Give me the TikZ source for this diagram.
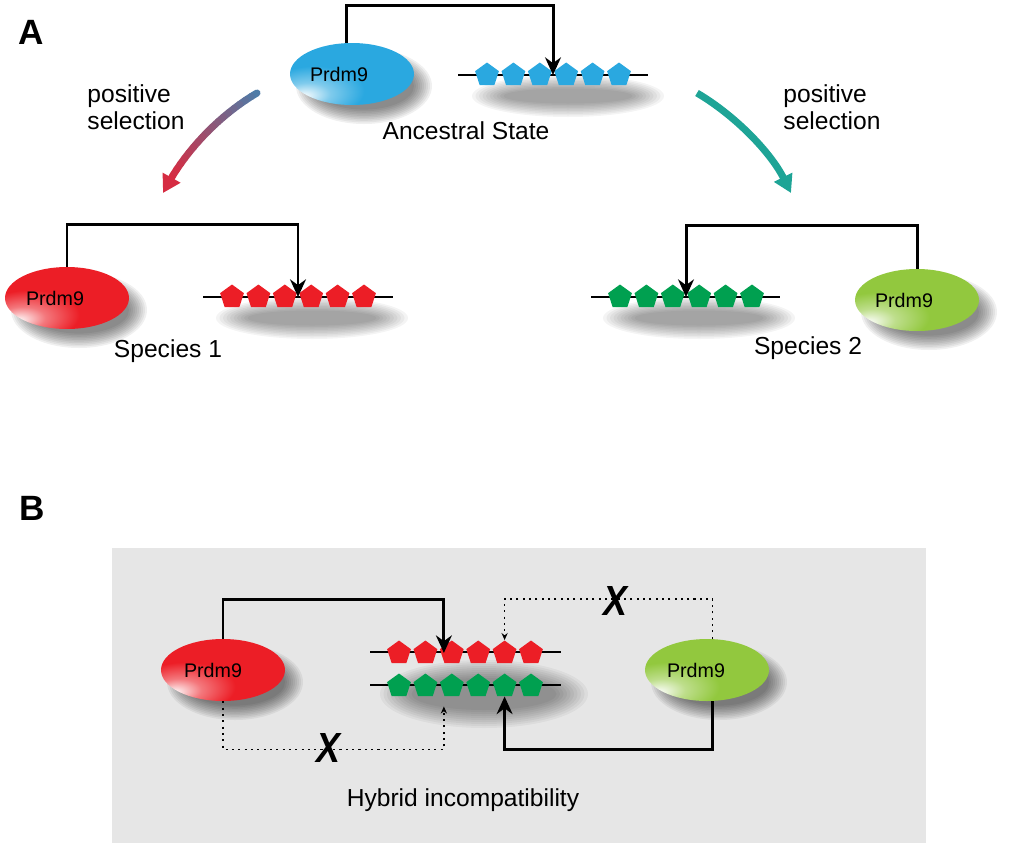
\documentclass[tikz,border=0pt]{standalone}
\usepackage{fontspec}
\setmainfont{Liberation Sans}
\usepackage{xcolor}
\usetikzlibrary{arrows.meta}
\usetikzlibrary{shapes.geometric}
\usetikzlibrary{calc}

\definecolor{ancblue}{RGB}{42,168,224}
\definecolor{sp1red}{RGB}{236,30,38}
\definecolor{sitegreen}{RGB}{0,160,80}
\definecolor{sp2lime}{RGB}{146,200,62}
\definecolor{selblue}{RGB}{78,124,168}
\definecolor{selred}{RGB}{214,44,66}
\definecolor{selteal}{RGB}{30,164,150}
\definecolor{hybgray}{RGB}{230,230,230}

\pgfdeclareradialshading{prdmblue}{\pgfpoint{-20bp}{-18bp}}{color(0bp)=(white); color(9bp)=(ancblue!60!white); color(20bp)=(ancblue); color(60bp)=(ancblue); color(80bp)=(ancblue!80!black)}
\pgfdeclareradialshading{prdmred}{\pgfpoint{-20bp}{-18bp}}{color(0bp)=(white); color(9bp)=(sp1red!60!white); color(20bp)=(sp1red); color(60bp)=(sp1red); color(80bp)=(sp1red!80!black)}
\pgfdeclareradialshading{prdmlime}{\pgfpoint{-20bp}{-18bp}}{color(0bp)=(white); color(9bp)=(sp2lime!60!white); color(20bp)=(sp2lime); color(60bp)=(sp2lime); color(80bp)=(sp2lime!80!black)}

\begin{document}
\begin{tikzpicture}[x=0.02cm,y=-0.02cm]
\tikzset{>={Stealth[length=10pt,width=9pt]}}
\tikzstyle{prdm}=[ellipse,inner sep=0pt,minimum width=2.48cm,minimum height=1.24cm,shade]
\tikzstyle{gene}=[font=\fontsize{11.2}{13}\selectfont]
\tikzstyle{site}=[regular polygon,regular polygon sides=5,inner sep=0pt,minimum size=0.5cm]
\tikzstyle{haze}=[fill=black,opacity=0.06]
\tikzstyle{barhaze}=[fill=black,opacity=0.045]
\tikzstyle{link}=[line width=1.7pt]
\tikzstyle{lost}=[line width=0.9pt,dash pattern=on 1.2pt off 2.4pt]
\tikzstyle{caption}=[font=\fontsize{14}{15.3}\selectfont]
\tikzstyle{panel}=[font=\fontsize{20}{20}\selectfont\bfseries]
\tikzstyle{cross}=[font=\fontsize{24}{24}\selectfont\bfseries\itshape,xscale=0.85]

\useasboundingbox (0,0) rectangle (1024,849);

\node[panel] (pa) at (31,32) {A};
\node[panel] (pb) at (32,508) {B};

% ancestral state
\coordinate (ancc) at (352,74);
\foreach \k in {0,...,9}
  \fill[haze] ($(ancc)+(12,12)$) ellipse [x radius={68-2*\k}, y radius={38-1.6*\k}];
\node[prdm,shading=prdmblue,label={[gene,xshift=-0.26cm]center:Prdm9}] (anc) at (ancc) {};
\foreach \k in {0,...,9}
  \fill[barhaze] (568,96) ellipse [x radius={96-3.5*\k}, y radius={21-1.5*\k}];
\draw[line width=1.2pt] (458,75) -- (648,75);
\foreach \i in {1,...,6}
  \node[site,fill=ancblue] (a\i) at ({487+26.4*(\i-1)},75) {};
\node[caption,anchor=base] (ancl) at (466,139) {Ancestral State};
\draw[link,->] (anc.100) -- ++(0,-37) -| ($(a3)!0.5!(a4)$);

% positive selection
\node[caption,align=left] (sell) at (136,107) {positive\\selection};
\node[caption,align=left] (selr) at (832,107) {positive\\selection};
\path (257,93) .. controls (218,116) and (183,153) .. (163,193)
  \foreach \i in {0,...,20} {coordinate[pos=\i/20] (s\i)};
\foreach \i [evaluate=\i as \j using int(\i+1), evaluate=\i as \c using int(6*\i)] in {0,...,16}
  \draw[line width=4pt,line cap=round,selred!\c!selblue] (s\i) -- (s\j);
\draw[line width=4pt,selred,-{Triangle[length=10pt,width=11pt]}] (s17) -- (s20);
\coordinate (t0) at (697,93);
\coordinate (t1) at (791,193);
\draw[line width=4pt,selteal,-{Triangle[length=10pt,width=11pt]}] (t0) .. controls (736,116) and (771,153) .. (t1);

% species 1
\coordinate (sp1c) at (67,298);
\foreach \k in {0,...,9}
  \fill[haze] ($(sp1c)+(12,12)$) ellipse [x radius={68-2*\k}, y radius={38-1.6*\k}];
\node[prdm,shading=prdmred,label={[gene,xshift=-0.24cm]center:Prdm9}] (sp1) at (sp1c) {};
\foreach \k in {0,...,9}
  \fill[barhaze] (312,318) ellipse [x radius={96-3.5*\k}, y radius={21-1.5*\k}];
\draw[line width=1.2pt] (203,297) -- (393,297);
\foreach \i in {1,...,6}
  \node[site,fill=sp1red] (r\i) at ({232+26.4*(\i-1)},297) {};
\node[caption,anchor=base] (sp1l) at (168,357) {Species 1};
\draw[link,->] (sp1.north) -- ++(0,-42) -| ($(r3)!0.5!(r4)$);

% species 2
\coordinate (sp2c) at (917,300);
\foreach \k in {0,...,9}
  \fill[haze] ($(sp2c)+(12,12)$) ellipse [x radius={68-2*\k}, y radius={38-1.6*\k}];
\node[prdm,shading=prdmlime,label={[gene,xshift=-0.26cm]center:Prdm9}] (sp2) at (sp2c) {};
\foreach \k in {0,...,9}
  \fill[barhaze] (699,318) ellipse [x radius={96-3.5*\k}, y radius={21-1.5*\k}];
\draw[line width=1.2pt] (591,297) -- (780,297);
\foreach \i in {1,...,6}
  \node[site,fill=sitegreen] (g\i) at ({620+26.4*(\i-1)},297) {};
\node[caption,anchor=base] (sp2l) at (808,354) {Species 2};
\draw[link,->] (sp2.north) -- ++(0,-43) -| ($(g3)!0.5!(g4)$);

% hybrid
\fill[hybgray] (112,548) rectangle (926,843);
\coordinate (hrc) at (223,670);
\coordinate (hgc) at (707,670);
\foreach \k in {0,...,9} {
  \fill[haze] ($(hrc)+(12,12)$) ellipse [x radius={68-2*\k}, y radius={38-1.6*\k}];
  \fill[haze] ($(hgc)+(12,12)$) ellipse [x radius={68-2*\k}, y radius={38-1.6*\k}];
  \fill[barhaze] (484,694) ellipse [x radius={104-3.5*\k}, y radius={34-2*\k}];
}
\node[prdm,shading=prdmred,label={[gene,xshift=-0.2cm]center:Prdm9}] (hr) at (hrc) {};
\node[prdm,shading=prdmlime,label={[gene,xshift=-0.22cm]center:Prdm9}] (hg) at (hgc) {};
\draw[line width=1.2pt] (370,652) -- (561,652);
\draw[line width=1.2pt] (370,685) -- (561,685);
\foreach \i in {1,...,6} {
  \node[site,fill=sp1red] (hr\i) at ({399+26.4*(\i-1)},653) {};
  \node[site,fill=sitegreen] (hg\i) at ({399+26.4*(\i-1)},686) {};
}
\node[caption] (hybl) at (463,800) {Hybrid incompatibility};

\draw[link,->] (hr.north) -- ++(0,-39) -| ($(hr2)!0.7!(hr3)$);
\draw[link,->] (hg.-80) -- ++(0,48) -| (hg5.south);
\draw[lost,-{Stealth[length=4pt,width=3.5pt]}] (hg.80) -- ++(0,-40) -| (hr5.north);
\draw[lost,-{Stealth[length=4pt,width=3.5pt]}] (hr.south) -- ++(0,48) -| ($(hg2.south)!0.7!(hg3.south)+(0,10)$);
\node[cross] (x1) at (615,601) {X};
\node[cross] (x2) at (328,748) {X};
\end{tikzpicture}
\end{document}
